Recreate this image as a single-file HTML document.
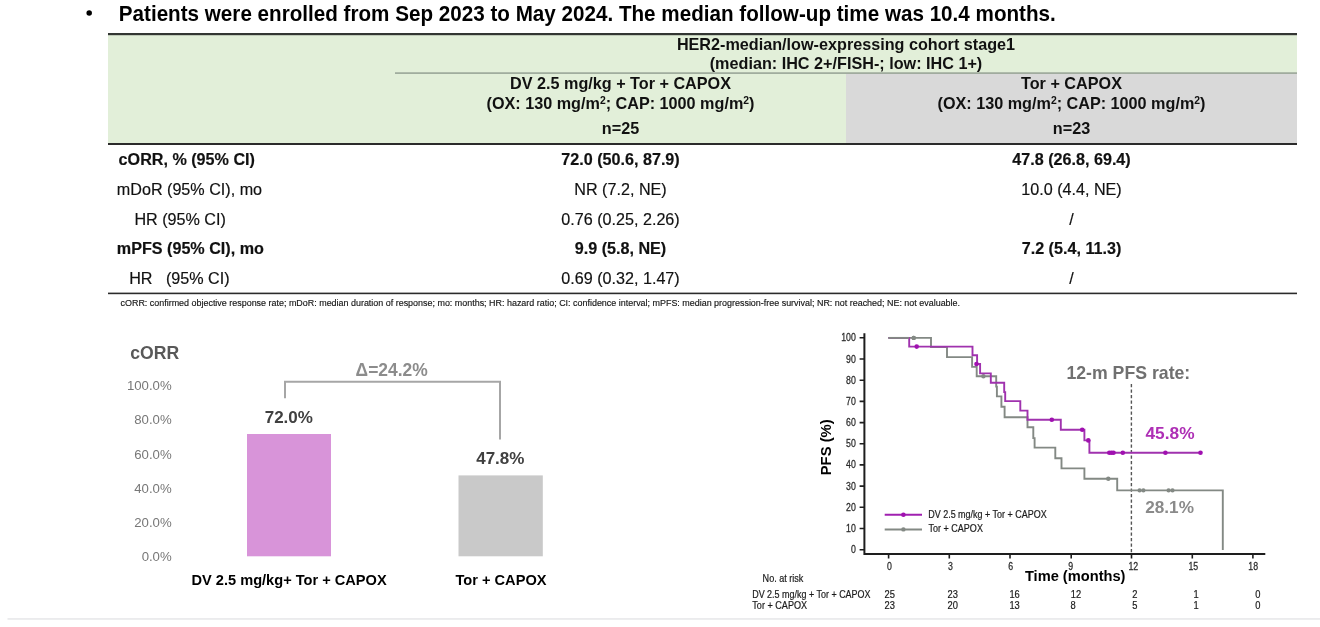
<!DOCTYPE html>
<html><head><meta charset="utf-8">
<style>
html,body{margin:0;padding:0;background:#fff;}
body{width:1320px;height:627px;overflow:hidden;}
svg{display:block;will-change:transform;font-family:"Liberation Sans",sans-serif;}
.b{font-weight:bold;}
</style></head>
<body>
<svg width="1320" height="627" viewBox="0 0 1320 627">
<!-- title -->
<circle cx="89.2" cy="13.1" r="2.75" fill="#000"/>
<text x="118.8" y="20.6" font-size="21.9" class="b" fill="#000" textLength="937" lengthAdjust="spacingAndGlyphs">Patients were enrolled from Sep 2023 to May 2024. The median follow-up time was 10.4 months.</text>

<!-- table backgrounds -->
<rect x="108" y="34" width="1189" height="110" fill="#E2EFD9"/>
<rect x="846" y="73" width="451" height="71" fill="#D9D9D9"/>
<!-- lines -->
<rect x="108" y="33" width="1189" height="2.2" fill="#333633"/>
<rect x="395" y="72.3" width="902" height="1.6" fill="#9AA697"/>
<rect x="108" y="143" width="1189" height="2" fill="#2b2b2b"/>
<rect x="108" y="292.6" width="1189" height="1.6" fill="#2b2b2b"/>

<!-- header text -->
<g font-size="16.2" class="b" fill="#111" text-anchor="middle">
<text x="846" y="49.6">HER2-median/low-expressing cohort stage1</text>
<text x="846" y="69">(median: IHC 2+/FISH-; low: IHC 1+)</text>
<text x="620.5" y="88.9">DV 2.5 mg/kg + Tor + CAPOX</text>
<text x="620.5" y="109.1">(OX: 130 mg/m<tspan font-size="10.4" dy="-5.3">2</tspan><tspan dy="5.3">; CAP: 1000 mg/m</tspan><tspan font-size="10.4" dy="-5.3">2</tspan><tspan dy="5.3">)</tspan></text>
<text x="620.5" y="133.5">n=25</text>
<text x="1071.5" y="88.9">Tor + CAPOX</text>
<text x="1071.5" y="109.1">(OX: 130 mg/m<tspan font-size="10.4" dy="-5.3">2</tspan><tspan dy="5.3">; CAP: 1000 mg/m</tspan><tspan font-size="10.4" dy="-5.3">2</tspan><tspan dy="5.3">)</tspan></text>
<text x="1071.5" y="133.5">n=23</text>
</g>

<!-- body rows -->
<g font-size="16.15" fill="#111" stroke="#111" stroke-width="0.18">
<text x="118.6" y="164.7" class="b">cORR, % (95% CI)</text>
<text x="116.8" y="195">mDoR (95% CI), mo</text>
<text x="134.4" y="224.7">HR (95% CI)</text>
<text x="116.8" y="254.2" class="b">mPFS (95% CI), mo</text>
<text x="129.2" y="283.8" xml:space="preserve">HR   (95% CI)</text>
<g text-anchor="middle">
<text x="620.5" y="164.7" class="b">72.0 (50.6, 87.9)</text>
<text x="620.5" y="195">NR (7.2, NE)</text>
<text x="620.5" y="224.7">0.76 (0.25, 2.26)</text>
<text x="620.5" y="254.2" class="b">9.9 (5.8, NE)</text>
<text x="620.5" y="283.8">0.69 (0.32, 1.47)</text>
<text x="1071.5" y="164.7" class="b">47.8 (26.8, 69.4)</text>
<text x="1071.5" y="195">10.0 (4.4, NE)</text>
<text x="1071.5" y="224.7">/</text>
<text x="1071.5" y="254.2" class="b">7.2 (5.4, 11.3)</text>
<text x="1071.5" y="283.8">/</text>
</g>
</g>
<text x="120.5" y="305.8" font-size="8.95" fill="#151515" stroke="#151515" stroke-width="0.15">cORR: confirmed objective response rate; mDoR: median duration of response; mo: months; HR: hazard ratio; CI: confidence interval; mPFS: median progression-free survival; NR: not reached; NE: not evaluable.</text>

<!-- bar chart -->
<text x="130.3" y="359.1" font-size="17.6" class="b" fill="#595959">cORR</text>
<g font-size="13.2" fill="#777" text-anchor="end">
<text x="171.7" y="390.3">100.0%</text>
<text x="171.7" y="424.4">80.0%</text>
<text x="171.7" y="458.6">60.0%</text>
<text x="171.7" y="492.7">40.0%</text>
<text x="171.7" y="526.9">20.0%</text>
<text x="171.7" y="561">0.0%</text>
</g>
<rect x="247" y="434" width="84" height="122.3" fill="#D894D9"/>
<rect x="458.5" y="475.4" width="84.3" height="80.9" fill="#C9C9C9"/>
<path d="M285 398.3 V381.8 H500 V439.6" fill="none" stroke="#A6A6A6" stroke-width="2"/>
<g class="b" text-anchor="middle">
<text x="391.7" y="376.3" font-size="17.45" fill="#8c8c8c">Δ=24.2%</text>
<text x="288.8" y="423" font-size="17" fill="#404040">72.0%</text>
<text x="500.3" y="464.2" font-size="17" fill="#404040">47.8%</text>
<text x="289.1" y="585.3" font-size="14.6" fill="#000">DV 2.5 mg/kg+ Tor + CAPOX</text>
<text x="501" y="585.3" font-size="14.6" fill="#000">Tor + CAPOX</text>
</g>

<!-- KM plot -->
<g id="km">
<!-- axes -->
<path d="M864.4 333.3 V554.7 M863.4 553.9 H1265.3" fill="none" stroke="#1e1e1e" stroke-width="2"/>
<g stroke="#1e1e1e" stroke-width="1.6">
<path d="M859.6 549.7H864 M859.6 528.5H864 M859.6 507.3H864 M859.6 486.1H864 M859.6 464.9H864 M859.6 443.8H864 M859.6 422.6H864 M859.6 401.4H864 M859.6 380.2H864 M859.6 359H864 M859.6 337.8H864"/>
<path d="M888.6 554V558.5 M949.3 554V558.5 M1010 554V558.5 M1071.2 554V558.5 M1131.5 554V558.5 M1192.3 554V558.5 M1252.9 554V558.5"/>
</g>
<g font-size="10.2" fill="#2a2a2a" stroke="#2a2a2a" stroke-width="0.25">
<text transform="translate(855.8 553.2) scale(0.86 1)" text-anchor="end">0</text>
<text transform="translate(855.8 532.0) scale(0.86 1)" text-anchor="end">10</text>
<text transform="translate(855.8 510.8) scale(0.86 1)" text-anchor="end">20</text>
<text transform="translate(855.8 489.6) scale(0.86 1)" text-anchor="end">30</text>
<text transform="translate(855.8 468.4) scale(0.86 1)" text-anchor="end">40</text>
<text transform="translate(855.8 447.2) scale(0.86 1)" text-anchor="end">50</text>
<text transform="translate(855.8 426.1) scale(0.86 1)" text-anchor="end">60</text>
<text transform="translate(855.8 404.9) scale(0.86 1)" text-anchor="end">70</text>
<text transform="translate(855.8 383.7) scale(0.86 1)" text-anchor="end">80</text>
<text transform="translate(855.8 362.5) scale(0.86 1)" text-anchor="end">90</text>
<text transform="translate(855.8 341.3) scale(0.86 1)" text-anchor="end">100</text>
<text transform="translate(889.5 570.2) scale(0.86 1)" text-anchor="middle">0</text>
<text transform="translate(950.4 570.2) scale(0.86 1)" text-anchor="middle">3</text>
<text transform="translate(1010.7 570.2) scale(0.86 1)" text-anchor="middle">6</text>
<text transform="translate(1070.8 570.2) scale(0.86 1)" text-anchor="middle">9</text>
<text transform="translate(1133.3 570.2) scale(0.86 1)" text-anchor="middle">12</text>
<text transform="translate(1193.3 570.2) scale(0.86 1)" text-anchor="middle">15</text>
<text transform="translate(1253.2 570.2) scale(0.86 1)" text-anchor="middle">18</text>
</g>
<text x="1075.2" y="580.7" font-size="14.65" class="b" text-anchor="middle" fill="#000">Time (months)</text>
<text transform="translate(830.9 447.3) rotate(-90)" font-size="14.8" class="b" text-anchor="middle" fill="#000">PFS (%)</text>

<!-- dashed 12m -->
<path d="M1131.4 384 V553" stroke="#555" stroke-width="1.4" stroke-dasharray="3.3 2.2"/>

<!-- curves -->
<path d="M888.4 337.9 H931 V347 H947 V357.1 H972.1 V366.9 H976.7 V376.3 H996.2 V386.6 H996.9 V396.4 H1001.4 V406.8 H1004.6 V417.3 H1027.5 V427.2 H1033.3 V438.1 H1034.6 V447.6 H1055.3 V458.2 H1061.5 V468.4 H1084.4 V478.7 H1117.2 V490.4 H1222.8 V550" fill="none" stroke="#838984" stroke-width="1.9"/>
<g fill="#838984">
<circle cx="913.7" cy="337.9" r="2.2"/><circle cx="983.4" cy="376.3" r="2.2"/><circle cx="1108.3" cy="478.7" r="2.2"/>
<circle cx="1139.6" cy="490.4" r="2.1"/><circle cx="1143.4" cy="490.4" r="2.1"/><circle cx="1168.6" cy="490.4" r="2.1"/><circle cx="1172.5" cy="490.4" r="2.1"/>
</g>
<path d="M888.4 337.9 H909.2 V346.6 H972.5 V355.2 H977.1 V364 H980.1 V373.4 H990.8 V382.7 H1004.2 V392.1 H1005.2 V401.1 H1020.3 V410.6 H1027.5 V419.7 H1060.8 V429.8 H1084.4 V440.4 H1089.4 V452.7 H1200.5" fill="none" stroke="#A032AE" stroke-width="1.9"/>
<g fill="#A010B0">
<circle cx="916.7" cy="346.6" r="2.3"/><circle cx="976.5" cy="364" r="2.3"/><circle cx="1051.8" cy="419.7" r="2.3"/><circle cx="1082.2" cy="429.8" r="2.3"/><circle cx="1088.3" cy="440.4" r="2.3"/>
<circle cx="1109.3" cy="452.7" r="2.3"/><circle cx="1111.5" cy="452.7" r="2.3"/><circle cx="1113.5" cy="452.7" r="2.3"/><circle cx="1122.8" cy="452.7" r="2.3"/><circle cx="1165.4" cy="452.7" r="2.3"/><circle cx="1200.5" cy="452.7" r="2.3"/>
</g>

<path d="M888.4 337.9 H909.2" stroke="#838984" stroke-width="1.9"/>
<circle cx="913.7" cy="337.9" r="2.2" fill="#838984"/>
<!-- legend -->
<path d="M884.7 514.8 H922" stroke="#A020B0" stroke-width="2"/>
<circle cx="903.4" cy="514.8" r="2.3" fill="#A010B0"/>
<path d="M884.7 529.4 H922" stroke="#838984" stroke-width="2"/>
<circle cx="903.4" cy="529.4" r="2.2" fill="#838984"/>
<g font-size="10.6" fill="#1a1a1a" stroke="#1a1a1a" stroke-width="0.2">
<text x="928.2" y="518" textLength="118.5" lengthAdjust="spacingAndGlyphs">DV 2.5 mg/kg + Tor + CAPOX</text>
<text x="928.6" y="531.7" textLength="54.3" lengthAdjust="spacingAndGlyphs">Tor + CAPOX</text>
</g>

<!-- annotations -->
<g class="b">
<text x="1066.4" y="378.9" font-size="17.7" fill="#707070">12-m PFS rate:</text>
<text x="1145.5" y="438.6" font-size="17.3" fill="#AE2FB5">45.8%</text>
<text x="1145.2" y="513.4" font-size="17.2" fill="#8a8a8a">28.1%</text>
</g>

<!-- risk table -->
<g font-size="10.6" fill="#1a1a1a" stroke="#1a1a1a" stroke-width="0.2">
<text x="762.6" y="581.7" textLength="40.8" lengthAdjust="spacingAndGlyphs">No. at risk</text>
<text x="752.2" y="597.8" textLength="118.3" lengthAdjust="spacingAndGlyphs">DV 2.5 mg/kg + Tor + CAPOX</text>
<text x="752.3" y="609.2" textLength="54.8" lengthAdjust="spacingAndGlyphs">Tor + CAPOX</text>
<text transform="translate(889.8 597.8) scale(0.88 1)" text-anchor="middle">25</text>
<text transform="translate(952.8 597.8) scale(0.88 1)" text-anchor="middle">23</text>
<text transform="translate(1014.6 597.8) scale(0.88 1)" text-anchor="middle">16</text>
<text transform="translate(1075.9 597.8) scale(0.88 1)" text-anchor="middle">12</text>
<text transform="translate(1134.9 597.8) scale(0.88 1)" text-anchor="middle">2</text>
<text transform="translate(1196 597.8) scale(0.88 1)" text-anchor="middle">1</text>
<text transform="translate(1257.9 597.8) scale(0.88 1)" text-anchor="middle">0</text>
<text transform="translate(889.8 609.2) scale(0.88 1)" text-anchor="middle">23</text>
<text transform="translate(952.8 609.2) scale(0.88 1)" text-anchor="middle">20</text>
<text transform="translate(1014.6 609.2) scale(0.88 1)" text-anchor="middle">13</text>
<text transform="translate(1073 609.2) scale(0.88 1)" text-anchor="middle">8</text>
<text transform="translate(1134.9 609.2) scale(0.88 1)" text-anchor="middle">5</text>
<text transform="translate(1196 609.2) scale(0.88 1)" text-anchor="middle">1</text>
<text transform="translate(1257.9 609.2) scale(0.88 1)" text-anchor="middle">0</text>
</g>
</g>

<!-- bottom faint line -->
<rect x="7.5" y="618.2" width="1312.5" height="1.5" fill="#E6E7E9"/>
</svg>
</body></html>
